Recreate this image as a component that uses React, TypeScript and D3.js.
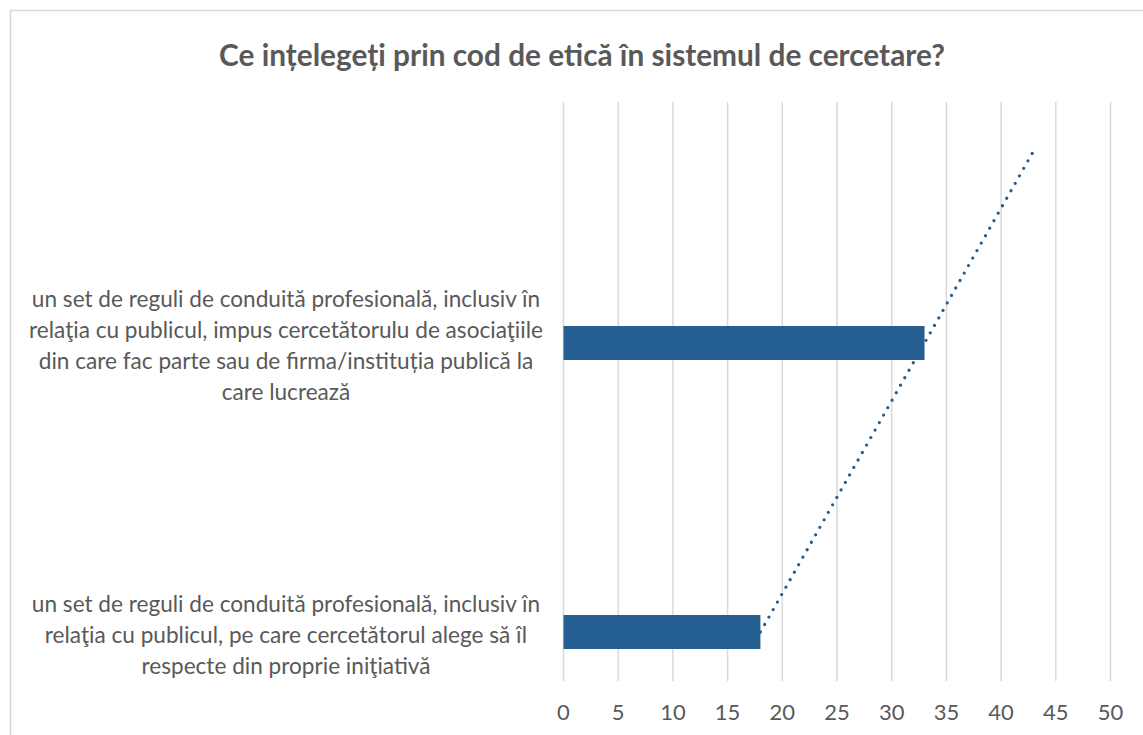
import React from "react";
import * as d3 from "d3";

const title = "Ce ințelegeți prin cod de etică în sistemul de cercetare?";

// first category sits at the bottom, as in the source chart
const categories = [
  [
    "un set de reguli de conduită profesională, inclusiv în",
    "relaţia cu publicul, pe care cercetătorul alege să îl",
    "respecte din proprie iniţiativă",
  ],
  [
    "un set de reguli de conduită profesională, inclusiv în",
    "relaţia cu publicul, impus cercetătorulu de asociaţiile",
    "din care fac parte sau de firma/instituția publică la",
    "care lucrează",
  ],
];
const values = [18, 33];
const xTicks = [0, 5, 10, 15, 20, 25, 30, 35, 40, 45, 50];
const trendForward = 0.67;

const width = 1143;
const height = 735;
const textColor = "#595959";
const barColor = "#255e91";
const font = "Lato, 'Open Sans', sans-serif";

export default function App() {
  const x = d3.scaleLinear().domain([0, 50]).range([563.5, 1110.5]);
  // category index -> vertical position
  const yIdx = d3.scaleLinear().domain([0, 1]).range([632, 343]);
  const barH = 34;
  const gridTop = 102;
  const gridBottom = 681;

  // linear least squares trendline on category index
  const idx = values.map((_, i) => i);
  const mx = d3.mean(idx)!;
  const my = d3.mean(values)!;
  const slope =
    d3.sum(idx, (i) => (i - mx) * (values[i] - my)) /
    d3.sum(idx, (i) => (i - mx) * (i - mx));
  const icpt = my - slope * mx;
  const t0 = 0;
  const t1 = values.length - 1 + trendForward;
  const trend = d3
    .line<number>()
    .x((t) => x(icpt + slope * t))
    .y((t) => yIdx(t));

  return (
    <svg
      width={width}
      height={height}
      style={{ position: "absolute", left: 0, top: 0, background: "#fff" }}
    >
      <rect x={0} y={0} width={width} height={height} fill="#fff" />
      <path d={`M10.5,${height}V10.5H${width}`} fill="none" stroke="#d9d9d9" strokeWidth={1.5} />
      <text
        x={582}
        y={66}
        textAnchor="middle"
        fontFamily={font}
        fontWeight="bold"
        fontSize={29.8}
        fill={textColor}
      >
        {title}
      </text>
      <g>
        {xTicks.map((t) => (
          <line
            key={t}
            x1={x(t)}
            x2={x(t)}
            y1={gridTop}
            y2={gridBottom}
            stroke="#d9d9d9"
            strokeWidth={1.5}
          />
        ))}
      </g>
      <g fontFamily={font} fontSize={22} fill={textColor} textAnchor="middle">
        {xTicks.map((t) => (
          <text key={t} x={x(t)} y={720}>
            {t}
          </text>
        ))}
      </g>
      <g>
        {values.map((v, i) => (
          <rect
            key={i}
            x={x(0)}
            y={yIdx(i) - barH / 2}
            width={x(v) - x(0)}
            height={barH}
            fill={barColor}
          />
        ))}
      </g>
      <path
        d={trend([t0, t1])!}
        fill="none"
        stroke={barColor}
        strokeWidth={3.3}
        strokeLinecap="round"
        strokeDasharray="0 8.6"
      />
      <g fontFamily={font} fontSize={22.6} fill={textColor} textAnchor="middle">
        {categories.map((lines, i) => {
          const lh = 31;
          const top = yIdx(i) - ((lines.length - 1) * lh) / 2;
          return (
            <text key={i} x={286} y={top + 10.5}>
              {lines.map((l, k) => (
                <tspan key={k} x={286} y={top + 10.5 + k * lh}>
                  {l}
                </tspan>
              ))}
            </text>
          );
        })}
      </g>
    </svg>
  );
}
